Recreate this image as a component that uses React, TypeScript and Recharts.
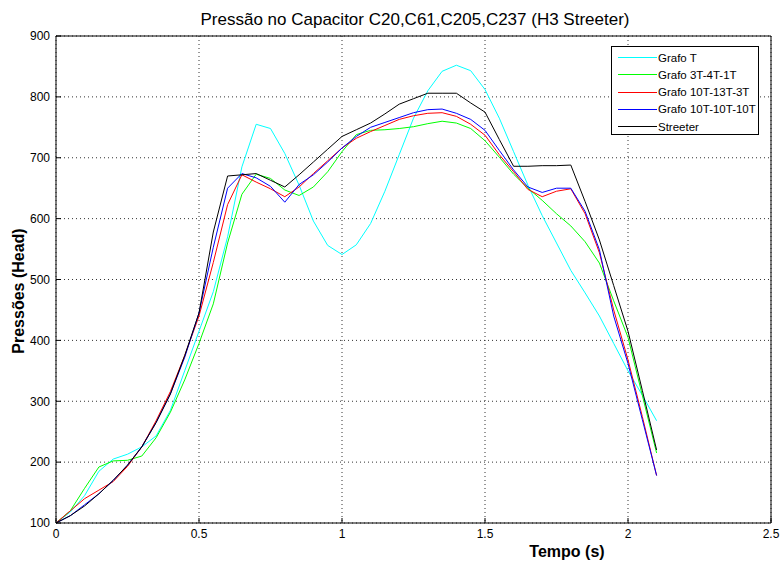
import {
  LineChart,
  Line,
  XAxis,
  YAxis,
  CartesianGrid,
  ReferenceLine,
} from "recharts";

// time samples (s)
const tempo = [
  0, 0.05, 0.1, 0.15, 0.2, 0.25, 0.3, 0.35, 0.4, 0.45, 0.5, 0.55, 0.6, 0.65,
  0.7, 0.75, 0.8, 0.85, 0.9, 0.95, 1.0, 1.05, 1.1, 1.15, 1.2, 1.25, 1.3, 1.35,
  1.4, 1.45, 1.5, 1.55, 1.6, 1.65, 1.7, 1.75, 1.8, 1.85, 1.9, 1.95, 2.0, 2.05,
  2.1,
];

const grafoT = [
  100, 118, 145, 185, 205, 213, 225, 243, 285, 350, 415, 480, 570, 685, 755,
  748, 707, 655, 596, 556, 541, 557, 592, 645, 705, 765, 810, 842, 852, 843,
  812, 765, 710, 655, 605, 560, 515, 478, 440, 395, 350, 310, 268,
];

const grafo3T4T1T = [
  100, 120, 157, 192, 202, 203, 210, 240, 282, 335, 395, 460, 560, 640, 673,
  666, 647, 638, 652, 677, 710, 738, 745, 746, 748, 751, 756, 760, 757, 748,
  728, 701, 673, 650, 630, 608, 588, 562, 527, 465, 405, 310, 215,
];

const grafo10T13T3T = [
  100, 120, 140, 154, 168, 193, 225, 268, 316, 375, 440, 528, 623, 672, 660,
  649, 636, 652, 674, 695, 716, 732, 743, 753, 763, 769, 773, 774, 768, 755,
  737, 705, 677, 648, 636, 645, 649, 608, 544, 450, 368, 275, 178,
];

const grafo10T10T10T = [
  100, 112, 130, 148, 170, 195, 225, 265, 312, 372, 445, 553, 650, 674, 667,
  653, 627, 656, 672, 693, 716, 735, 750, 758, 766, 774, 779, 780, 773, 763,
  745, 712, 680, 652, 643, 650, 650, 612, 549, 440, 362, 270, 178,
];

const streeter = [
  100, 112, 128, 148, 170, 195, 225, 265, 312, 375, 445, 578, 670, 672, 674,
  663, 652, 672, 693, 714, 735, 746, 757, 772, 788, 797, 806, 806, 806, 790,
  775, 730, 686, 686, 687, 687, 688, 628, 565, 490, 415, 318, 220,
];

const xTicks = [0, 0.5, 1, 1.5, 2, 2.5];
const yTicks = [100, 200, 300, 400, 500, 600, 700, 800, 900];

const series = [
  { key: "grafoT", name: "Grafo T", color: "#00ffff" },
  { key: "grafo3T", name: "Grafo 3T-4T-1T", color: "#00ff00" },
  { key: "grafo10T13T", name: "Grafo 10T-13T-3T", color: "#ff0000" },
  { key: "grafo10T10T", name: "Grafo 10T-10T-10T", color: "#0000ff" },
  { key: "streeter", name: "Streeter", color: "#000000" },
];

const data = tempo.map((t, i) => ({
  t,
  grafoT: grafoT[i],
  grafo3T: grafo3T4T1T[i],
  grafo10T13T: grafo10T13T3T[i],
  grafo10T10T: grafo10T10T10T[i],
  streeter: streeter[i],
}));

const FONT = "'Liberation Sans', Arial, sans-serif";

// legend box drawn over the top-right of the plot, like matlab's
const ChartLegend = () => (
  <div
    style={{
      position: "absolute",
      left: 611,
      top: 46,
      width: 148,
      height: 89,
      border: "1px solid #000",
      background: "#fff",
      boxSizing: "border-box",
      fontSize: 11.5,
    }}
  >
    {series.map((s, i) => (
      <div
        key={s.key}
        style={{
          position: "absolute",
          left: 0,
          top: 2 + i * 17.25,
          height: 17,
          display: "flex",
          alignItems: "center",
        }}
      >
        <svg width={45} height={17} style={{ display: "block" }}>
          <line x1={6} x2={45} y1={8.5} y2={8.5} stroke={s.color} strokeWidth={1} />
        </svg>
        <span style={{ marginLeft: 1, color: "#000", whiteSpace: "nowrap" }}>
          {s.name}
        </span>
      </div>
    ))}
  </div>
);

export default function App() {
  return (
    <div
      style={{
        position: "absolute",
        left: 0,
        top: 0,
        width: 782,
        height: 565,
        background: "#fff",
        fontFamily: FONT,
      }}
    >
      <LineChart
        width={782}
        height={565}
        data={data}
        margin={{ top: 36, right: 11, left: 6, bottom: 12 }}
      >
        <CartesianGrid
          stroke="#333"
          strokeDasharray="1 3"
          horizontalValues={yTicks}
          verticalValues={xTicks}
        />
        <XAxis
          dataKey="t"
          type="number"
          domain={[0, 2.5]}
          ticks={xTicks}
          height={30}
          stroke="#000"
          tickSize={-5}
          tickMargin={11}
          tick={{ fill: "#000", fontSize: 12, fontFamily: FONT }}
        />
        <YAxis
          type="number"
          domain={[100, 900]}
          ticks={yTicks}
          width={50}
          stroke="#000"
          tickSize={-5}
          tickMargin={11}
          tick={{ fill: "#000", fontSize: 12, fontFamily: FONT }}
        />
        <ReferenceLine y={900} stroke="#000" />
        <ReferenceLine x={2.5} stroke="#000" />
        {series.map((s) => (
          <Line
            key={s.key}
            type="linear"
            dataKey={s.key}
            name={s.name}
            stroke={s.color}
            strokeWidth={1}
            dot={false}
            isAnimationActive={false}
          />
        ))}
      </LineChart>

      <div
        style={{
          position: "absolute",
          left: 0,
          width: 830,
          top: 10,
          textAlign: "center",
          fontSize: 17,
          lineHeight: "20px",
        }}
      >
        Pressão no Capacitor C20,C61,C205,C237 (H3 Streeter)
      </div>
      <div
        style={{
          position: "absolute",
          left: 19,
          top: 291,
          transform: "translate(-50%, -50%) rotate(-90deg)",
          fontSize: 16,
          fontWeight: "bold",
          whiteSpace: "nowrap",
        }}
      >
        Pressões (Head)
      </div>
      <div
        style={{
          position: "absolute",
          left: 567,
          top: 552,
          transform: "translate(-50%, -50%)",
          fontSize: 16,
          fontWeight: "bold",
          whiteSpace: "nowrap",
        }}
      >
        Tempo (s)
      </div>
      <ChartLegend />
    </div>
  );
}
